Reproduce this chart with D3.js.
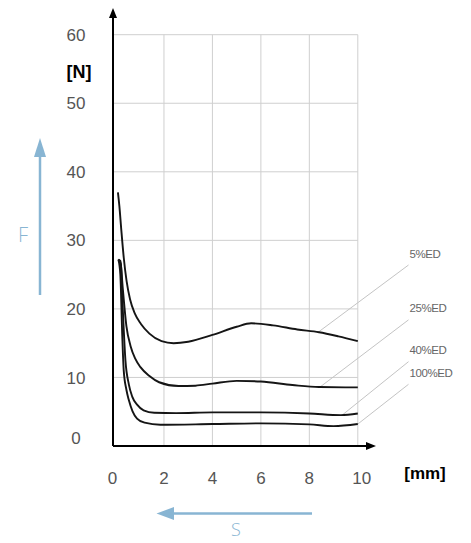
<!DOCTYPE html>
<html><head><meta charset="utf-8">
<script src="https://cdn.jsdelivr.net/npm/d3@7"></script>
<style>
html,body{margin:0;padding:0;background:#fff;}
svg{display:block;}
</style></head>
<body>
<svg id="chart" width="471" height="543"></svg>
<script>
// ---- data ----
const seriesNames = ["5%ED", "25%ED", "40%ED", "100%ED"];
const xTicks = [0, 2, 4, 6, 8, 10];
const yTicks = [0, 10, 20, 30, 40, 50, 60];
const s5 = [[0.1,37],[0.16,35],[0.24,31.5],[0.34,27.5],[0.46,24],[0.6,21.4],[0.8,19.3],[1.05,17.8],[1.4,16.4],[1.9,15.3],[2.4,15.0],[3.0,15.2],[4.0,16.2],[5.0,17.4],[5.6,17.9],[6.5,17.6],[7.5,17.0],[8.4,16.6],[9.2,16.0],[10,15.3]];
const s25 = [[0.12,27.2],[0.2,27],[0.3,23],[0.45,17.5],[0.62,14.6],[0.82,12.7],[1.03,11.5],[1.4,10.2],[1.8,9.3],[2.6,8.75],[3.3,8.8],[4.0,9.1],[5.0,9.5],[6.0,9.4],[7.3,8.9],[8.4,8.6],[10,8.55]];
const s40 = [[0.12,27.2],[0.22,26.5],[0.3,20],[0.41,12.5],[0.55,9],[0.69,7.2],[0.9,6.0],[1.16,5.2],[1.6,4.85],[2.5,4.8],[4,4.9],[6,4.9],[8,4.75],[9.3,4.5],[10,4.75]];
const s100 = [[0.12,27.2],[0.2,25],[0.28,16],[0.34,11],[0.45,8.2],[0.55,6.7],[0.7,5.1],[0.89,4.0],[1.2,3.4],[1.85,3.1],[4,3.2],[6,3.3],[8,3.15],[9.0,2.9],[10,3.2]];
const seriesData = [s5, s25, s40, s100];
const leaderX = [8.37, 8.44, 9.36, 10];      // where the leader line touches each curve
const labelY = [26.4, 18.4, 12.3, 9.0];      // value level of each label's leader start

// ---- layout ----
const svg = d3.select("#chart");
const x = d3.scaleLinear().domain([0, 10]).range([115.5, 357.8]);
const y = d3.scaleLinear().domain([0, 60]).range([446, 34.7]);
const axisX = x(0) - 2.5;
const font = "'Liberation Sans', Arial, Helvetica, sans-serif";
const blue = "#88b5d3";

// grid
const grid = svg.append("g").attr("stroke", "#cfcfcf").attr("stroke-width", 1).attr("fill", "none");
yTicks.filter(v => v > 0).forEach(v => {
  grid.append("line").attr("x1", axisX).attr("x2", x(10)).attr("y1", y(v)).attr("y2", y(v));
});
xTicks.filter(v => v > 0).forEach(v => {
  grid.append("line").attr("x1", x(v)).attr("x2", x(v)).attr("y1", y(60)).attr("y2", y(0));
});

// leader lines
seriesData.forEach((s, i) => {
  const lx = leaderX[i];
  let ly = s[s.length - 1][1];
  for (let k = 1; k < s.length; k++) {
    if (s[k][0] >= lx) {
      const t = (lx - s[k-1][0]) / (s[k][0] - s[k-1][0]);
      ly = s[k-1][1] + t * (s[k][1] - s[k-1][1]);
      break;
    }
  }
  svg.append("line")
    .attr("x1", x(lx)).attr("y1", y(ly))
    .attr("x2", 408.5).attr("y2", y(labelY[i]))
    .attr("stroke", "#c4c4c4").attr("stroke-width", 1);
  svg.append("text")
    .attr("x", 409.5).attr("y", y(labelY[i]) - 7.5)
    .attr("font-family", font).attr("font-size", 11.5)
    .attr("letter-spacing", -0.4)
    .attr("fill", "#666")
    .text(seriesNames[i]);
});

// curves
const line = d3.line().x(d => x(d[0])).y(d => y(d[1])).curve(d3.curveMonotoneX);
seriesData.forEach(s => {
  svg.append("path").attr("d", line(s))
    .attr("fill", "none").attr("stroke", "#151515").attr("stroke-width", 1.9)
    .attr("stroke-linejoin", "round");
});

// axes with arrows
svg.append("line").attr("x1", axisX).attr("x2", axisX).attr("y1", y(0)).attr("y2", 16)
  .attr("stroke", "#000").attr("stroke-width", 2);
svg.append("path").attr("d", `M${axisX},8 L${axisX-4},18 L${axisX+4},18 Z`).attr("fill", "#000");
svg.append("line").attr("x1", axisX).attr("x2", 368).attr("y1", y(0)).attr("y2", y(0))
  .attr("stroke", "#000").attr("stroke-width", 2);
svg.append("path").attr("d", `M376,${y(0)} L366,${y(0)-4} L366,${y(0)+4} Z`).attr("fill", "#000");

// tick labels
svg.append("g").selectAll("text").data(yTicks).join("text")
  .attr("x", 76).attr("y", d => y(d) + (d === 0 ? -8 : 0))
  .attr("dy", "0.36em")
  .attr("text-anchor", "middle")
  .attr("font-family", font).attr("font-size", 17).attr("fill", "#555")
  .text(d => d);
svg.append("g").selectAll("text").data(xTicks).join("text")
  .attr("x", d => x(d) + (d === 10 ? 4 : (d === 0 ? -3 : 0))).attr("y", 478)
  .attr("dy", "0.36em")
  .attr("text-anchor", "middle")
  .attr("font-family", font).attr("font-size", 17).attr("fill", "#555")
  .text(d => d);

// unit labels
svg.append("text").attr("x", 79).attr("y", 72).attr("dy", "0.36em")
  .attr("text-anchor", "middle").attr("font-family", font).attr("font-weight", "bold")
  .attr("font-size", 18).attr("fill", "#000").text("[N]");
svg.append("text").attr("x", 425).attr("y", 473).attr("dy", "0.36em")
  .attr("text-anchor", "middle").attr("font-family", font).attr("font-weight", "bold")
  .attr("font-size", 17).attr("fill", "#000").text("[mm]");

// blue direction arrows
svg.append("line").attr("x1", 40).attr("x2", 40).attr("y1", 295).attr("y2", 152)
  .attr("stroke", blue).attr("stroke-width", 2.5);
svg.append("path").attr("d", "M40,138 L34,157 L46,157 Z").attr("fill", blue);
svg.append("text").attr("x", 23).attr("y", 235).attr("dy", "0.36em")
  .attr("text-anchor", "middle").attr("font-family", "'Open Sans', sans-serif")
  .attr("font-weight", 300).attr("font-size", 20).attr("fill", blue).text("F");

svg.append("line").attr("x1", 312).attr("x2", 170).attr("y1", 513.5).attr("y2", 513.5)
  .attr("stroke", blue).attr("stroke-width", 2.5);
svg.append("path").attr("d", "M156.5,513.5 L174,507 L174,520 Z").attr("fill", blue);
svg.append("text").attr("x", 236).attr("y", 530).attr("dy", "0.36em")
  .attr("text-anchor", "middle").attr("font-family", "'Open Sans', sans-serif")
  .attr("font-weight", 300).attr("font-size", 18).attr("fill", blue).text("S");
</script>
</body></html>
